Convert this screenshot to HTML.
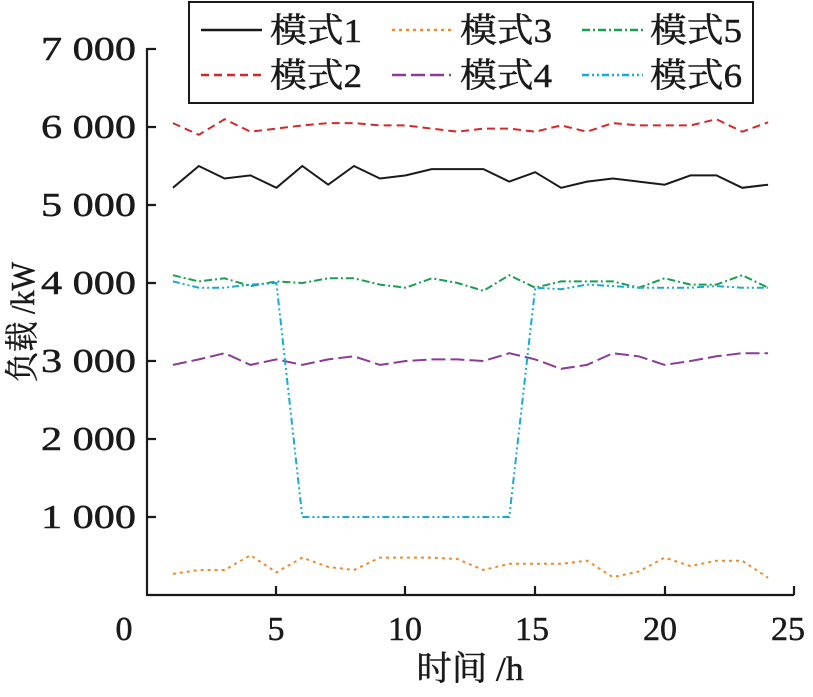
<!DOCTYPE html>
<html><head><meta charset="utf-8"><style>
html,body{margin:0;padding:0;background:#fff}
text{font-family:"Liberation Serif","Noto Serif CJK SC",serif;fill:#1a1a1a;stroke:#1a1a1a;stroke-width:0.5}
</style></head><body>
<svg width="813" height="692" viewBox="0 0 813 692" xmlns="http://www.w3.org/2000/svg">
<g stroke="#1a1a1a" stroke-width="2.2" fill="none">
<path d="M147,48 V595 H794"/>
<path d="M147,49h9M147,127h9M147,205h9M147,283h9M147,361h9M147,439h9M147,517h9"/>
<path d="M276,595v-9M405,595v-9M535,595v-9M665,595v-9M794,595v-9"/>
</g>
<g font-size="34" text-anchor="end">
<text x="136" y="60" textLength="95" lengthAdjust="spacingAndGlyphs">7 000</text>
<text x="136" y="138" textLength="95" lengthAdjust="spacingAndGlyphs">6 000</text>
<text x="136" y="216" textLength="95" lengthAdjust="spacingAndGlyphs">5 000</text>
<text x="136" y="294" textLength="95" lengthAdjust="spacingAndGlyphs">4 000</text>
<text x="136" y="372" textLength="95" lengthAdjust="spacingAndGlyphs">3 000</text>
<text x="136" y="450" textLength="95" lengthAdjust="spacingAndGlyphs">2 000</text>
<text x="136" y="528" textLength="95" lengthAdjust="spacingAndGlyphs">1 000</text>
</g>
<g font-size="34" text-anchor="middle">
<text x="124" y="640">0</text><text x="276" y="640">5</text><text x="405" y="640">10</text>
<text x="532" y="640">15</text><text x="660" y="640">20</text><text x="788" y="640">25</text>
<text x="470" y="680" textLength="107" lengthAdjust="spacingAndGlyphs">时间 /h</text>
<text transform="translate(34,322) rotate(-90)" textLength="120" lengthAdjust="spacingAndGlyphs">负载 /kW</text>
</g>
<g id="series" fill="none" stroke-width="2"></g>
<rect x="189" y="2" width="564" height="101" fill="#fff" stroke="#1a1a1a" stroke-width="2"/>
<g stroke-width="2.5">
<line x1="201" y1="30" x2="262" y2="30" stroke="#1a1a1a"/>
<line x1="201" y1="75" x2="262" y2="75" stroke="#d62728" stroke-dasharray="8,5"/>
<line x1="392" y1="30" x2="451" y2="30" stroke="#f08a2c" stroke-dasharray="3,4"/>
<line x1="392" y1="75" x2="451" y2="75" stroke="#8b3a96" stroke-dasharray="14,5"/>
<line x1="582" y1="30" x2="643" y2="30" stroke="#16a050" stroke-dasharray="8,3,2,3"/>
<line x1="582" y1="75" x2="643" y2="75" stroke="#1aa8d8" stroke-dasharray="7,3,2,3,2,3"/>
</g>
<g font-size="34">
<text x="270" y="42" textLength="92" lengthAdjust="spacingAndGlyphs">模式1</text>
<text x="270" y="87" textLength="92" lengthAdjust="spacingAndGlyphs">模式2</text>
<text x="460" y="42" textLength="92" lengthAdjust="spacingAndGlyphs">模式3</text>
<text x="460" y="87" textLength="92" lengthAdjust="spacingAndGlyphs">模式4</text>
<text x="650" y="42" textLength="92" lengthAdjust="spacingAndGlyphs">模式5</text>
<text x="650" y="87" textLength="92" lengthAdjust="spacingAndGlyphs">模式6</text>
</g>
<script>
const d={
"#1a1a1a|none":[5220,5500,5340,5380,5220,5500,5260,5500,5340,5380,5460,5460,5460,5300,5420,5220,5300,5340,5300,5260,5380,5380,5220,5260],
"#d62728|8,5":[6050,5900,6100,5940,5980,6020,6050,6050,6020,6020,5980,5940,5980,5980,5940,6020,5940,6050,6020,6020,6020,6100,5940,6060],
"#f08a2c|3,4":[270,320,320,510,290,480,360,320,480,480,480,460,320,400,400,400,440,230,300,480,370,440,440,220],
"#8b3a96|14,5":[2950,3020,3100,2950,3020,2950,3020,3060,2950,3000,3020,3020,3000,3100,3020,2900,2950,3100,3060,2950,3000,3060,3100,3100],
"#16a050|8,3,2,3":[4100,4020,4060,3960,4020,4000,4060,4060,3980,3940,4060,4000,3900,4100,3940,4020,4020,4020,3940,4060,3980,3980,4100,3940],
"#1aa8d8|7,3,2,3,2,3":[4020,3940,3940,3980,4000,1000,1000,1000,1000,1000,1000,1000,1000,1000,3940,3920,3980,3960,3940,3940,3940,3960,3940,3940]};
const g=document.getElementById('series');
for(const k in d){const[c,da]=k.split('|');const p=document.createElementNS('http://www.w3.org/2000/svg','polyline');
p.setAttribute('points',d[k].map((v,i)=>(147+(i+1)*25.88).toFixed(1)+','+(595-v*0.078).toFixed(1)).join(' '));
p.setAttribute('stroke',c);if(da!=='none')p.setAttribute('stroke-dasharray',da);g.appendChild(p);}
</script>
</svg>
</body></html>
